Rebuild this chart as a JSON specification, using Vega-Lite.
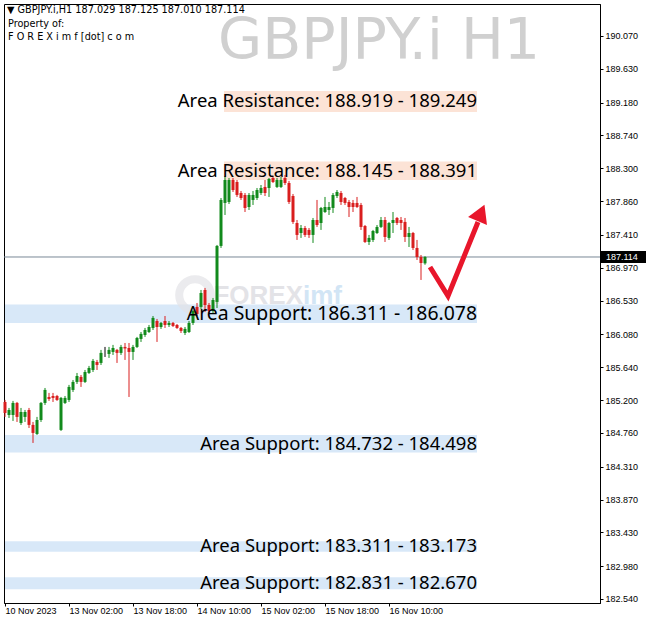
{
  "$schema": "https://vega.github.io/schema/vega-lite/v6.json",
  "width": 596,
  "height": 599,
  "autosize": {"type": "none"},
  "padding": {"left": 4, "top": 4, "right": 46, "bottom": 20},
  "background": "white",
  "config": {
    "view": {"stroke": "black", "strokeWidth": 1},
    "axis": {"grid": false, "domainColor": "black", "tickColor": "black", "labelColor": "black", "labelFont": "Liberation Sans", "labelFontSize": 9, "labelOverlap": false}
  },
  "datasets": {
    "candles": [
      {"i":0,"o":185.175,"h":185.202,"l":184.975,"c":185.028},
      {"i":1,"o":185.001,"h":185.095,"l":184.961,"c":185.068},
      {"i":2,"o":185.001,"h":185.189,"l":184.921,"c":185.162},
      {"i":3,"o":185.162,"h":185.175,"l":184.908,"c":184.975},
      {"i":4,"o":184.894,"h":185.095,"l":184.868,"c":185.041},
      {"i":5,"o":184.975,"h":185.068,"l":184.908,"c":185.041},
      {"i":6,"o":185.068,"h":185.095,"l":184.827,"c":184.868},
      {"i":7,"o":184.868,"h":184.908,"l":184.627,"c":184.761},
      {"i":8,"o":184.747,"h":184.975,"l":184.734,"c":184.934},
      {"i":9,"o":184.934,"h":185.175,"l":184.908,"c":185.162},
      {"i":10,"o":185.162,"h":185.362,"l":185.135,"c":185.336},
      {"i":11,"o":185.242,"h":185.296,"l":185.189,"c":185.215},
      {"i":12,"o":185.255,"h":185.296,"l":185.175,"c":185.229},
      {"i":13,"o":185.255,"h":185.269,"l":185.189,"c":185.202},
      {"i":14,"o":184.801,"h":185.242,"l":184.787,"c":185.229},
      {"i":15,"o":185.162,"h":185.255,"l":185.148,"c":185.229},
      {"i":16,"o":185.202,"h":185.403,"l":185.175,"c":185.376},
      {"i":17,"o":185.336,"h":185.469,"l":185.309,"c":185.443},
      {"i":18,"o":185.443,"h":185.563,"l":185.416,"c":185.523},
      {"i":19,"o":185.510,"h":185.536,"l":185.376,"c":185.443},
      {"i":20,"o":185.443,"h":185.603,"l":185.429,"c":185.576},
      {"i":21,"o":185.563,"h":185.657,"l":185.550,"c":185.630},
      {"i":22,"o":185.603,"h":185.750,"l":185.576,"c":185.724},
      {"i":23,"o":185.710,"h":185.737,"l":185.603,"c":185.670},
      {"i":24,"o":185.697,"h":185.871,"l":185.670,"c":185.831},
      {"i":25,"o":185.830,"h":185.911,"l":185.777,"c":185.830},
      {"i":26,"o":185.817,"h":185.911,"l":185.764,"c":185.871},
      {"i":27,"o":185.844,"h":185.938,"l":185.804,"c":185.897},
      {"i":28,"o":185.871,"h":185.884,"l":185.697,"c":185.831},
      {"i":29,"o":185.831,"h":185.938,"l":185.804,"c":185.911},
      {"i":30,"o":185.911,"h":185.964,"l":185.737,"c":185.891},
      {"i":31,"o":185.897,"h":185.964,"l":185.242,"c":185.844},
      {"i":32,"o":185.844,"h":185.938,"l":185.737,"c":185.911},
      {"i":33,"o":185.911,"h":186.045,"l":185.897,"c":186.031},
      {"i":34,"o":186.018,"h":186.111,"l":185.978,"c":186.085},
      {"i":35,"o":186.071,"h":186.165,"l":186.045,"c":186.138},
      {"i":36,"o":186.111,"h":186.205,"l":186.098,"c":186.178},
      {"i":37,"o":186.165,"h":186.325,"l":186.138,"c":186.299},
      {"i":38,"o":186.258,"h":186.285,"l":185.978,"c":186.178},
      {"i":39,"o":186.178,"h":186.245,"l":186.152,"c":186.232},
      {"i":40,"o":186.258,"h":186.325,"l":186.165,"c":186.205},
      {"i":41,"o":186.205,"h":186.258,"l":186.178,"c":186.232},
      {"i":42,"o":186.232,"h":186.245,"l":186.178,"c":186.192},
      {"i":43,"o":186.205,"h":186.218,"l":186.152,"c":186.165},
      {"i":44,"o":186.165,"h":186.178,"l":186.098,"c":186.125},
      {"i":45,"o":186.098,"h":186.178,"l":186.071,"c":186.152},
      {"i":46,"o":186.111,"h":186.258,"l":186.098,"c":186.232},
      {"i":47,"o":186.232,"h":186.406,"l":186.205,"c":186.392},
      {"i":48,"o":186.446,"h":186.499,"l":186.325,"c":186.352},
      {"i":49,"o":186.446,"h":186.673,"l":186.419,"c":186.633},
      {"i":50,"o":186.673,"h":186.700,"l":186.379,"c":186.472},
      {"i":51,"o":186.472,"h":186.499,"l":186.365,"c":186.392},
      {"i":52,"o":186.392,"h":186.566,"l":186.365,"c":186.539},
      {"i":53,"o":186.513,"h":187.275,"l":186.432,"c":187.262},
      {"i":54,"o":187.262,"h":187.903,"l":187.235,"c":187.877},
      {"i":55,"o":187.837,"h":188.198,"l":187.676,"c":188.144},
      {"i":56,"o":187.850,"h":188.171,"l":187.823,"c":188.144},
      {"i":57,"o":188.144,"h":188.171,"l":187.984,"c":188.010},
      {"i":58,"o":188.117,"h":188.144,"l":187.917,"c":187.944},
      {"i":59,"o":187.970,"h":187.997,"l":187.877,"c":187.903},
      {"i":60,"o":187.944,"h":187.970,"l":187.716,"c":187.770},
      {"i":61,"o":187.783,"h":187.970,"l":187.743,"c":187.944},
      {"i":62,"o":187.877,"h":187.997,"l":187.810,"c":187.944},
      {"i":63,"o":187.903,"h":188.037,"l":187.877,"c":188.010},
      {"i":64,"o":187.970,"h":188.077,"l":187.944,"c":188.037},
      {"i":65,"o":188.051,"h":188.144,"l":187.930,"c":187.970},
      {"i":66,"o":188.037,"h":188.171,"l":187.917,"c":188.158},
      {"i":67,"o":188.171,"h":188.198,"l":188.104,"c":188.117},
      {"i":68,"o":188.051,"h":188.171,"l":188.037,"c":188.144},
      {"i":69,"o":188.051,"h":188.184,"l":188.037,"c":188.144},
      {"i":70,"o":188.171,"h":188.211,"l":188.077,"c":188.104},
      {"i":71,"o":188.104,"h":188.131,"l":187.823,"c":187.850},
      {"i":72,"o":187.930,"h":187.957,"l":187.556,"c":187.583},
      {"i":73,"o":187.569,"h":187.609,"l":187.342,"c":187.409},
      {"i":74,"o":187.435,"h":187.542,"l":187.369,"c":187.502},
      {"i":75,"o":187.502,"h":187.529,"l":187.382,"c":187.409},
      {"i":76,"o":187.476,"h":187.502,"l":187.369,"c":187.409},
      {"i":77,"o":187.409,"h":187.636,"l":187.302,"c":187.609},
      {"i":78,"o":187.609,"h":187.877,"l":187.516,"c":187.542},
      {"i":79,"o":187.569,"h":187.783,"l":187.476,"c":187.770},
      {"i":80,"o":187.716,"h":187.917,"l":187.703,"c":187.783},
      {"i":81,"o":187.743,"h":187.850,"l":187.676,"c":187.783},
      {"i":82,"o":187.770,"h":187.970,"l":187.703,"c":187.944},
      {"i":83,"o":187.930,"h":188.010,"l":187.903,"c":187.984},
      {"i":84,"o":187.970,"h":187.997,"l":187.810,"c":187.850},
      {"i":85,"o":187.903,"h":187.917,"l":187.810,"c":187.837},
      {"i":86,"o":187.850,"h":187.877,"l":187.649,"c":187.783},
      {"i":87,"o":187.837,"h":187.877,"l":187.716,"c":187.783},
      {"i":88,"o":187.837,"h":187.917,"l":187.770,"c":187.783},
      {"i":89,"o":187.810,"h":187.837,"l":187.476,"c":187.516},
      {"i":90,"o":187.529,"h":187.542,"l":187.302,"c":187.315},
      {"i":91,"o":187.315,"h":187.409,"l":187.275,"c":187.369},
      {"i":92,"o":187.342,"h":187.476,"l":187.315,"c":187.462},
      {"i":93,"o":187.435,"h":187.542,"l":187.422,"c":187.516},
      {"i":94,"o":187.516,"h":187.649,"l":187.502,"c":187.609},
      {"i":95,"o":187.609,"h":187.649,"l":187.315,"c":187.382},
      {"i":96,"o":187.369,"h":187.583,"l":187.342,"c":187.569},
      {"i":97,"o":187.569,"h":187.716,"l":187.435,"c":187.609},
      {"i":98,"o":187.636,"h":187.649,"l":187.542,"c":187.569},
      {"i":99,"o":187.609,"h":187.649,"l":187.476,"c":187.569},
      {"i":100,"o":187.583,"h":187.636,"l":187.315,"c":187.382},
      {"i":101,"o":187.382,"h":187.516,"l":187.248,"c":187.435},
      {"i":102,"o":187.435,"h":187.449,"l":187.208,"c":187.235},
      {"i":103,"o":187.235,"h":187.342,"l":187.074,"c":187.114},
      {"i":104,"o":187.114,"h":187.141,"l":186.807,"c":187.034},
      {"i":105,"o":187.029,"h":187.125,"l":187.010,"c":187.114}
    ],
    "bands": [
      {"x1":54.75,"x2":118,"lo":189.055,"hi":189.335,"kind":"res","label":"Area Resistance: 188.919 - 189.249"},
      {"x1":54.75,"x2":118,"lo":188.145,"hi":188.391,"kind":"res","label":"Area Resistance: 188.145 - 188.391"},
      {"x1":0,"x2":118,"lo":186.23,"hi":186.48,"kind":"sup","label":"Area Support: 186.311 - 186.078"},
      {"x1":0,"x2":118,"lo":184.498,"hi":184.732,"kind":"sup","label":"Area Support: 184.732 - 184.498"},
      {"x1":0,"x2":118,"lo":183.173,"hi":183.311,"kind":"sup","label":"Area Support: 183.311 - 183.173"},
      {"x1":0,"x2":118,"lo":182.670,"hi":182.831,"kind":"sup","label":"Area Support: 182.831 - 182.670"}
    ],
    "arrow": [
      {"i":106.25,"p":186.980},
      {"i":110.75,"p":186.592},
      {"i":118.25,"p":187.582}
    ],
    "header": [
      {"t":"\u25bc GBPJPY.i,H1  187.029 187.125 187.010 187.114","i":0.5,"p":190.418},
      {"t":"Property of:","i":0.75,"p":190.231},
      {"t":"F O R E X i m f [dot] c o m","i":0.75,"p":190.057}
    ]
  },
  "layer": [
    {
      "data": {"name": "bands"},
      "mark": {"type": "rect"},
      "encoding": {
        "x": {"field": "x1", "type": "quantitative", "title": null, "scale": {"domain": [-0.25, 148.75], "nice": false, "zero": false},
              "axis": {"values": [0,16,32,48,64,80,96], "tickCount": 40, "tickSize": 3, "labelAlign": "left", "labelPadding": 0, "labelDx": 0, "grid": false, "labelOverlap": false,
                       "labelExpr": "datum.value==0?'10 Nov 2023':datum.value==16?'13 Nov 02:00':datum.value==32?'13 Nov 18:00':datum.value==48?'14 Nov 10:00':datum.value==64?'15 Nov 02:00':datum.value==80?'15 Nov 18:00':'16 Nov 10:00'"}},
        "x2": {"field": "x2"},
        "y": {"field": "lo", "type": "quantitative", "title": null, "scale": {"domain": [182.486, 190.498], "nice": false, "zero": false},
              "axis": {"orient": "right", "values": [182.54,182.98,183.43,183.87,184.31,184.76,185.2,185.64,186.08,186.53,186.97,187.41,187.86,188.3,188.74,189.18,189.63,190.07], "tickCount": 40, "format": ".3f", "tickSize": 3, "labelPadding": 2, "grid": false, "labelOverlap": false}},
        "y2": {"field": "hi"},
        "color": {"field": "kind", "type": "nominal", "scale": {"domain": ["res","sup"], "range": ["#fce3d6","#d8e8f8"]}, "legend": null}
      }
    },
    {
      "data": {"values": [{"t":"GBPJPY.i H1","i":93.5,"p":189.99}]},
      "mark": {"type": "text", "font": "DejaVu Sans", "fontSize": 57, "color": "#d0d0d0", "align": "center", "baseline": "middle"},
      "encoding": {"x": {"field": "i", "type": "quantitative", "title": null}, "y": {"field": "p", "type": "quantitative", "title": null}, "text": {"field": "t"}}
    },
    {
      "data": {"values": [{"i":47.5,"p":186.605}]},
      "mark": {"type": "point", "shape": "circle", "size": 1000, "filled": false, "stroke": "#e3e3e7", "strokeWidth": 8},
      "encoding": {"x": {"field": "i", "type": "quantitative", "title": null}, "y": {"field": "p", "type": "quantitative", "title": null}}
    },
    {
      "data": {"values": [{"t":"FOREX","i":74.5,"p":186.59}]},
      "mark": {"type": "text", "font": "Liberation Sans", "fontWeight": "bold", "fontSize": 26, "color": "#e3e3e7", "align": "right", "baseline": "middle"},
      "encoding": {"x": {"field": "i", "type": "quantitative", "title": null}, "y": {"field": "p", "type": "quantitative", "title": null}, "text": {"field": "t"}}
    },
    {
      "data": {"values": [{"t":"imf","i":74.5,"p":186.59}]},
      "mark": {"type": "text", "font": "Liberation Sans", "fontWeight": "bold", "fontSize": 26, "color": "#d2e5f5", "align": "left", "baseline": "middle"},
      "encoding": {"x": {"field": "i", "type": "quantitative", "title": null}, "y": {"field": "p", "type": "quantitative", "title": null}, "text": {"field": "t"}}
    },
    {
      "data": {"values": [{"p":187.114}]},
      "mark": {"type": "rule", "color": "#7a8896", "strokeWidth": 1},
      "encoding": {"y": {"field": "p", "type": "quantitative", "title": null}}
    },
    {
      "data": {"name": "candles"},
      "mark": {"type": "rule", "strokeWidth": 1},
      "encoding": {
        "x": {"field": "i", "type": "quantitative", "title": null},
        "y": {"field": "l", "type": "quantitative", "title": null},
        "y2": {"field": "h"},
        "color": {"condition": [{"test": "datum.c > datum.o", "value": "#128a1c"}, {"test": "datum.c < datum.o", "value": "#d91e1e"}], "value": "#000000"}
      }
    },
    {
      "data": {"name": "candles"},
      "mark": {"type": "rule", "strokeWidth": 3, "strokeCap": "butt"},
      "encoding": {
        "x": {"field": "i", "type": "quantitative", "title": null},
        "y": {"field": "o", "type": "quantitative", "title": null},
        "y2": {"field": "c"},
        "color": {"condition": [{"test": "datum.c > datum.o", "value": "#128a1c"}, {"test": "datum.c < datum.o", "value": "#d91e1e"}], "value": "#000000"}
      }
    },
    {
      "data": {"name": "bands"},
      "transform": [{"filter": "datum.lo < 186 || datum.lo > 187"}, {"calculate": "(datum.lo + datum.hi) / 2", "as": "mid"}],
      "mark": {"type": "text", "font": "Noto Sans", "fontSize": 18.5, "color": "black", "align": "right", "baseline": "middle"},
      "encoding": {"x": {"field": "x2", "type": "quantitative", "title": null}, "y": {"field": "mid", "type": "quantitative", "title": null}, "text": {"field": "label"}}
    },
    {
      "data": {"name": "bands"},
      "transform": [{"filter": "datum.lo > 186 && datum.lo < 187"}, {"calculate": "(datum.lo + datum.hi) / 2", "as": "mid"}],
      "mark": {"type": "text", "font": "Noto Sans", "fontSize": 19.4, "color": "black", "align": "right", "baseline": "middle"},
      "encoding": {"x": {"field": "x2", "type": "quantitative", "title": null}, "y": {"field": "mid", "type": "quantitative", "title": null}, "text": {"field": "label"}}
    },
    {
      "data": {"name": "arrow"},
      "mark": {"type": "line", "color": "#e8162b", "strokeWidth": 5, "strokeJoin": "miter"},
      "encoding": {"x": {"field": "i", "type": "quantitative", "title": null}, "y": {"field": "p", "type": "quantitative", "title": null}}
    },
    {
      "data": {"values": [{"i":119,"p":187.705}]},
      "mark": {"type": "point", "shape": "triangle-up", "size": 420, "filled": true, "color": "#e8162b", "opacity": 1, "angle": 23},
      "encoding": {"x": {"field": "i", "type": "quantitative", "title": null}, "y": {"field": "p", "type": "quantitative", "title": null}}
    },
    {
      "data": {"name": "header"},
      "mark": {"type": "text", "font": "DejaVu Sans", "fontSize": 9.7, "color": "black", "align": "left", "baseline": "middle"},
      "encoding": {"x": {"field": "i", "type": "quantitative", "title": null}, "y": {"field": "p", "type": "quantitative", "title": null}, "text": {"field": "t"}}
    },
    {
      "data": {"values": [{"a":148.75,"b":160.25,"lo":187.034,"hi":187.194}]},
      "mark": {"type": "rect", "color": "black"},
      "encoding": {"x": {"field": "a", "type": "quantitative", "title": null}, "x2": {"field": "b"}, "y": {"field": "lo", "type": "quantitative", "title": null}, "y2": {"field": "hi"}}
    },
    {
      "data": {"values": [{"t":"187.114","i":150.25,"p":187.114}]},
      "mark": {"type": "text", "font": "Liberation Sans", "fontSize": 9, "color": "white", "align": "left", "baseline": "middle"},
      "encoding": {"x": {"field": "i", "type": "quantitative", "title": null}, "y": {"field": "p", "type": "quantitative", "title": null}, "text": {"field": "t"}}
    }
  ]
}
